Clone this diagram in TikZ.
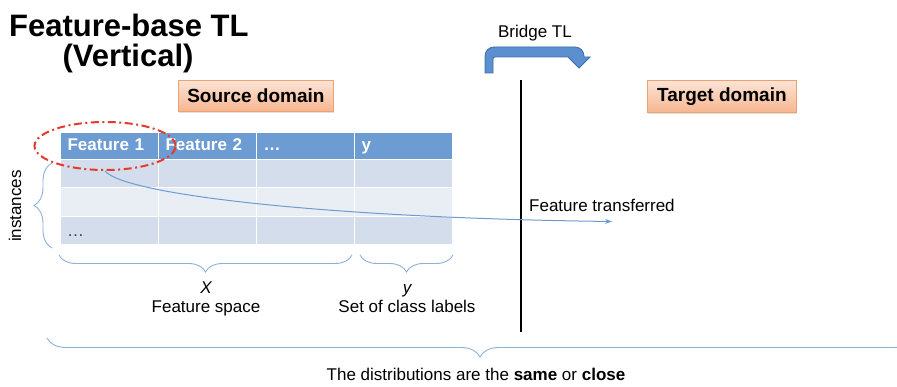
\documentclass[tikz,border=0pt]{standalone}
\usepackage{fontspec}
\setmainfont{Liberation Sans}
\usetikzlibrary{arrows.meta,decorations.pathreplacing,shapes.geometric,shadows}

\definecolor{hdrblue}{HTML}{6C9CD2}
\definecolor{rowdark}{HTML}{D3DDEB}
\definecolor{rowlight}{HTML}{E9EEF5}
\definecolor{bracecol}{HTML}{8DB0DB}
\definecolor{flowblue}{HTML}{6F9BD3}
\definecolor{bridgefill}{HTML}{5B8FD0}
\definecolor{bridgeline}{HTML}{3E6EA8}
\definecolor{peachtop}{HTML}{FCE4D6}
\definecolor{peachbot}{HTML}{F6B690}
\definecolor{peachline}{HTML}{EFA06C}
\definecolor{ringred}{HTML}{E5392D}

\tikzset{
  txt/.style={font=\fontsize{17}{20}\selectfont, inner sep=0pt},
  domainbox/.style={font=\fontsize{19}{22}\selectfont\bfseries, draw=peachline, line width=0.8pt,
    top color=peachtop, bottom color=peachbot, inner sep=0pt, anchor=north west,
    drop shadow={opacity=0.25, shadow xshift=1pt, shadow yshift=-1.5pt}},
  cell/.style={draw=white, line width=1.2pt, anchor=north west, text width=84pt,
    inner xsep=7pt, inner ysep=0pt, font=\fontsize{17}{20}\selectfont},
  hcell/.style={cell, fill=hdrblue, text=white, font=\fontsize{17}{20}\selectfont\bfseries,
    text height=12.5pt, text depth=3.5pt, inner ysep=5.5pt},
  bcell/.style={cell, minimum height=28.3pt},
  bracket/.style={draw=bracecol, line width=0.9pt, decorate,
    decoration={brace, amplitude=#1}},
  bracket/.default=17pt,
  flow/.style={draw=flowblue, line width=1pt, -{Stealth[length=7pt,width=5pt]}},
  selring/.style={draw=ringred, line width=2pt, ellipse, inner sep=0pt,
    dash pattern=on 8pt off 3.5pt on 2pt off 3.5pt},
}

\begin{document}
\begin{tikzpicture}[x=1pt,y=-1pt]
\useasboundingbox (0,0) rectangle (897,387);
\clip (0,0) rectangle (897,387);

% title
\node[font=\fontsize{31}{34}\selectfont\bfseries, inner sep=0pt, anchor=base west] (title) at (9,37) {Feature-base TL};
\node[font=\fontsize{31}{34}\selectfont\bfseries, inner sep=0pt, anchor=base] (title2) at (128,67) {(Vertical)};

% domain labels
\node[domainbox, minimum width=155pt, minimum height=31pt] (src) at (178,80) {Source domain};
\node[domainbox, minimum width=149pt, minimum height=32pt] (tgt) at (647,80) {Target domain};

% bridge arrow
\node[txt, anchor=base] (bridge) at (535,38) {Bridge TL};
\draw[fill=bridgefill, draw=bridgeline, line width=0.8pt]
  [rounded corners=9pt] (485,73) -- (485,47) -- (584,47)
  [sharp corners] -- (584,57) -- (590,57) -- (579,68) -- (568,57)
  [rounded corners=2pt] -- (493,57) [sharp corners] -- (493,73) -- cycle;

% divider between domains
\coordinate (divtop) at (521,80);
\coordinate (divbot) at (521,332);
\draw[line width=1.6pt] (divtop) -- (divbot);

% table: header row
\node[hcell] (h1) at (60,132) {Feature 1};
\node[hcell] (h2) at (158,132) {Feature 2};
\node[hcell] (h3) at (256,132) {\dots};
\node[hcell] (h4) at (354,132) {y};
% table: body rows
\foreach \c [count=\i] in {60,158,256,354} {
  \node[bcell, fill=rowdark]  (r1c\i) at (\c,159) {};
  \node[bcell, fill=rowlight] (r2c\i) at (\c,187.3) {};
  \node[bcell, fill=rowdark]  (r3c\i) at (\c,215.6) {};
}
\node[txt, anchor=base west, text=black!75] (dots) at (67,237) {\dots};

% selected feature and its transfer
\node[selring, minimum width=141pt, minimum height=48pt] (sel) at (105,146) {};
\coordinate (dest) at (612,221.5);
\draw[flow] (sel.south) .. controls (125,195) and (330,218) .. (dest);
\node[txt, anchor=base west] (ftr) at (529,212) {Feature transferred};

% instances brace
\coordinate (ib) at (52,248);
\coordinate (it) at (52,163);
\draw[bracket=18pt] (ib) -- (it);
\node[txt, rotate=90] (inst) at (15,206) {instances};

% feature / label braces
\coordinate (xr) at (352,255);
\coordinate (xl) at (59,255);
\draw[bracket] (xr) -- (xl);
\coordinate (yr) at (453,255);
\coordinate (yl) at (360,255);
\draw[bracket] (yr) -- (yl);
\node[txt, anchor=base, font=\fontsize{17}{20}\selectfont\itshape] (xsym) at (206,294) {X};
\node[txt, anchor=base] (xdesc) at (206,313) {Feature space};
\node[txt, anchor=base, font=\fontsize{17}{20}\selectfont\itshape] (ysym) at (407,294) {y};
\node[txt, anchor=base] (ydesc) at (407,313) {Set of class labels};

% distributions brace
\coordinate (dr) at (913,338);
\coordinate (dl) at (47,338);
\draw[bracket=19pt] (dr) -- (dl);
\node[txt, anchor=base] (dist) at (476,381) {The distributions are the \textbf{same} or \textbf{close}};
\end{tikzpicture}
\end{document}
